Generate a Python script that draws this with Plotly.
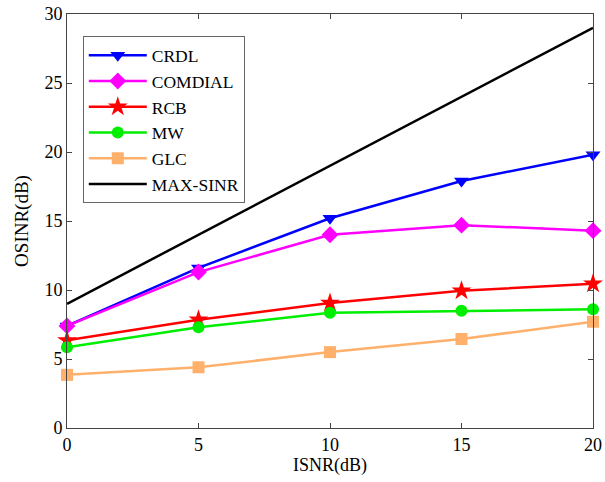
import plotly.graph_objects as go

isnr = [0, 5, 10, 15, 20]
crdl = [7.4, 11.6, 15.2, 17.9, 19.8]
comdial = [7.4, 11.3, 14.0, 14.7, 14.3]
rcb = [6.35, 7.85, 9.05, 9.95, 10.45]
mw = [5.85, 7.3, 8.35, 8.5, 8.6]
glc = [3.85, 4.4, 5.5, 6.45, 7.7]
maxsinr = [9, 14, 19, 24, 29]

series = [
    ("CRDL", crdl, "#0000ff", "triangle-down", 13),
    ("COMDIAL", comdial, "#ff00ff", "diamond", 13),
    ("RCB", rcb, "#ff0000", "star", 15),
    ("MW", mw, "#00ee00", "circle", 12),
    ("GLC", glc, "#ffb06b", "square", 12),
]

fig = go.Figure()
for name, ys, col, sym, sz in series:
    fig.add_trace(go.Scatter(x=isnr, y=ys, name=name, mode="lines+markers",
                             line=dict(color=col, width=2.5),
                             marker=dict(symbol=sym, size=sz, color=col)))
fig.add_trace(go.Scatter(x=isnr, y=maxsinr, name="MAX-SINR", mode="lines",
                         line=dict(color="black", width=2.5)))

font = "Liberation Serif"
axis_common = dict(showline=True, linecolor="#444", linewidth=1, mirror="ticks",
                   ticks="inside", ticklen=5, tickcolor="#444", showgrid=False,
                   zeroline=False, automargin=False,
                   tickfont=dict(size=18, color="black", family=font))
fig.update_layout(
    width=605, height=482,
    margin=dict(l=67, r=12, t=14, b=54),
    paper_bgcolor="white", plot_bgcolor="white",
    font=dict(family=font, color="black", size=18),
    showlegend=True,
    legend=dict(x=0.03, y=0.946, xanchor="left", yanchor="top",
                bordercolor="#666", borderwidth=1, bgcolor="white",
                itemwidth=58,
                font=dict(size=17.5, family=font), tracegroupgap=0),
)
fig.update_xaxes(range=[0, 20], tickvals=[0, 5, 10, 15, 20],
                 title=dict(text="ISNR(dB)", standoff=4, font=dict(size=18)), **axis_common)
fig.update_yaxes(range=[0, 30], tickvals=[0, 5, 10, 15, 20, 25, 30],
                 title=dict(text="OSINR(dB)", standoff=10, font=dict(size=19)), **axis_common)
fig.update_traces(cliponaxis=False)
fig.write_html("out.html")
